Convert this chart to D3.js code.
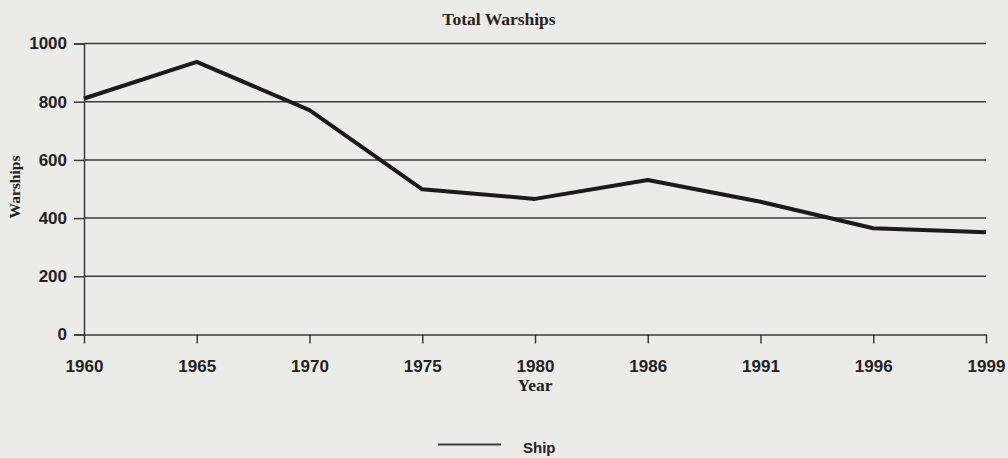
<!DOCTYPE html>
<html>
<head>
<meta charset="utf-8">
<script src="https://cdn.jsdelivr.net/npm/d3@7/dist/d3.min.js"></script>
<style>
html,body{margin:0;padding:0;background:#ebebe7;}
svg{display:block;}
</style>
</head>
<body>
<script>
const years = ["1960","1965","1970","1975","1980","1986","1991","1996","1999"];
const ships = [811, 937, 771, 499, 466, 531, 456, 365, 351];
const yTicks = [0, 200, 400, 600, 800, 1000];
const title = "Total Warships";
const xTitle = "Year";
const yTitle = "Warships";
const seriesName = "Ship";

const W = 1008, H = 458;
const svg = d3.select("body").append("svg").attr("width", W).attr("height", H);
svg.append("rect").attr("width", W).attr("height", H).attr("fill", "#ebebe7");

const x = d3.scalePoint().domain(years).range([84, 986]);
const y = d3.scaleLinear().domain([0, 1000]).range([334.5, 43.5]);

// gridlines
svg.append("g").selectAll("line").data(yTicks.filter(d => d > 0)).join("line")
  .attr("x1", 84).attr("x2", 986)
  .attr("y1", d => y(d)).attr("y2", d => y(d))
  .attr("stroke", "#3a3a3a").attr("stroke-width", 1.5);

// y axis
const yAxis = svg.append("g").attr("transform", "translate(84,0)")
  .call(d3.axisLeft(y).tickValues(yTicks).tickSize(10).tickPadding(7).tickFormat(d3.format("d")));
yAxis.select(".domain").attr("stroke", "#3a3a3a").attr("stroke-width", 1.5);
yAxis.selectAll(".tick line").attr("stroke", "#3a3a3a").attr("stroke-width", 1.5);
yAxis.selectAll("text").attr("font-family", "Liberation Sans, Arial, sans-serif")
  .attr("font-size", 17).attr("font-weight", "bold").attr("fill", "#222");

// x axis
const xAxis = svg.append("g").attr("transform", "translate(0,334.5)")
  .call(d3.axisBottom(x).tickSize(9).tickSizeOuter(0).tickPadding(16));
xAxis.select(".domain").attr("stroke", "#3a3a3a").attr("stroke-width", 1.5);
xAxis.selectAll(".tick line").attr("stroke", "#3a3a3a").attr("stroke-width", 1.5);
xAxis.selectAll("text").attr("font-family", "Liberation Sans, Arial, sans-serif")
  .attr("font-size", 17).attr("font-weight", "bold").attr("fill", "#222");

// line
const line = d3.line().x((d, i) => x(years[i])).y(d => y(d));
svg.append("path").datum(ships).attr("d", line)
  .attr("fill", "none").attr("stroke", "#1e1a1a").attr("stroke-width", 4)
  .attr("stroke-linejoin", "round");

// titles
svg.append("text").attr("x", 499).attr("y", 25).attr("text-anchor", "middle")
  .attr("font-family", "Liberation Serif, Times New Roman, serif").attr("font-size", 17.5)
  .attr("font-weight", "bold").attr("fill", "#2a2222").text(title);
svg.append("text").attr("x", 535).attr("y", 391).attr("text-anchor", "middle")
  .attr("font-family", "Liberation Serif, Times New Roman, serif").attr("font-size", 17.5)
  .attr("font-weight", "bold").attr("fill", "#222").text(xTitle);
svg.append("text").attr("transform", "translate(20,187) rotate(-90)").attr("text-anchor", "middle")
  .attr("font-family", "Liberation Serif, Times New Roman, serif").attr("font-size", 15.5)
  .attr("font-weight", "bold").attr("fill", "#222").text(yTitle);

// legend
const lg = svg.append("g");
lg.append("line").attr("x1", 438).attr("x2", 501).attr("y1", 444.5).attr("y2", 444.5)
  .attr("stroke", "#3a3a3a").attr("stroke-width", 1.8);
lg.append("text").attr("x", 523).attr("y", 453)
  .attr("font-family", "Liberation Sans, Arial, sans-serif").attr("font-size", 15)
  .attr("font-weight", "bold").attr("fill", "#222").text(seriesName);
</script>
</body>
</html>
